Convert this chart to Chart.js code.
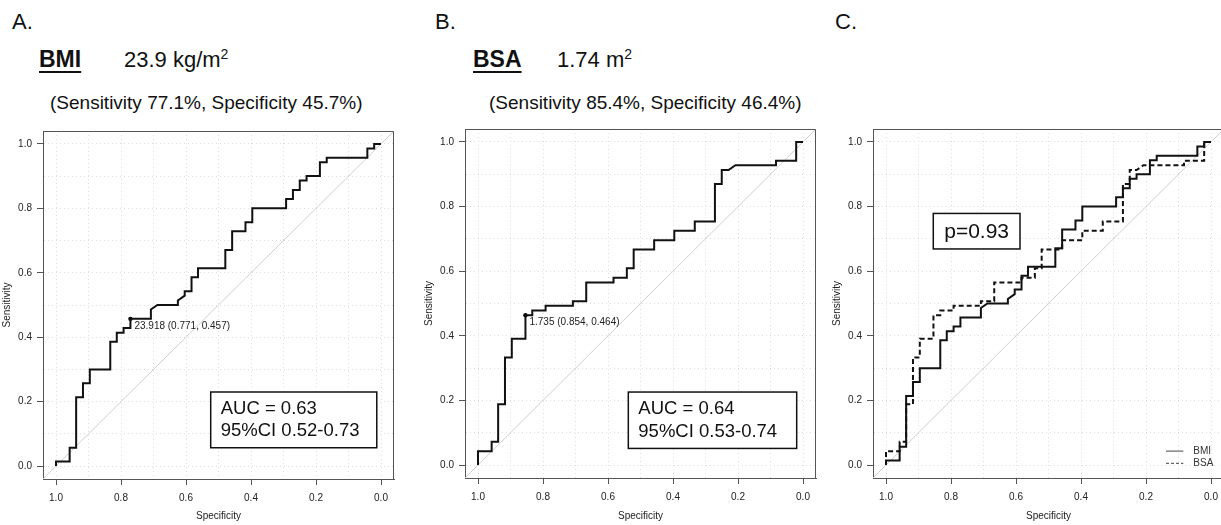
<!DOCTYPE html>
<html>
<head>
<meta charset="utf-8">
<script src="https://cdn.jsdelivr.net/npm/chart.js@4.4.1/dist/chart.umd.min.js"></script>
<style>
body { margin: 0; background: #fff; overflow: hidden; font-family: "Liberation Sans", Arial, Helvetica, sans-serif; color: #111; }
#wrap { position: relative; width: 1221px; height: 525px; overflow: hidden; }
canvas { position: absolute; }
.t { position: absolute; white-space: nowrap; line-height: 1; }
.big { font-size: 22px; }
.lab { font-size: 23px; font-weight: bold; text-decoration: underline; text-decoration-thickness: 2px; text-underline-offset: 4px; }
.val { font-size: 22px; }
.val span { font-size: 14px; position: relative; top: -8px; }
.sub { font-size: 19px; }
</style>
</head>
<body>
<div id="wrap">
  <div class="t big" style="left:12px;top:11px">A.</div>
  <div class="t lab" style="left:39px;top:48px">BMI</div>
  <div class="t val" style="left:124px;top:49px">23.9 kg/m<span>2</span></div>
  <div class="t sub" style="left:50px;top:93px">(Sensitivity 77.1%, Specificity 45.7%)</div>

  <div class="t big" style="left:435px;top:11px">B.</div>
  <div class="t lab" style="left:473px;top:48px">BSA</div>
  <div class="t val" style="left:557px;top:49px">1.74 m<span>2</span></div>
  <div class="t sub" style="left:489px;top:93px">(Sensitivity 85.4%, Specificity 46.4%)</div>

  <div class="t big" style="left:835px;top:11px">C.</div>

  <canvas id="rocA" width="405" height="406" style="left:0px;top:120px"></canvas>
  <canvas id="rocB" width="405" height="407" style="left:422px;top:118px"></canvas>
  <canvas id="rocC" width="405" height="407" style="left:830px;top:118px"></canvas>
</div>
<script>
//+++++++++++++++++++++++ data +++++++++++++++++++++++
const AX_MIN = -0.04, AX_MAX = 1.04;
const gridVals = [0, 0.1, 0.2, 0.3, 0.4, 0.5, 0.6, 0.7, 0.8, 0.9, 1.0];
const tickVals = [0, 0.2, 0.4, 0.6, 0.8, 1.0];
const tickLabels = ['0.0', '0.2', '0.4', '0.6', '0.8', '1.0'];

// ROC path of BMI (specificity, sensitivity)
const bmiSpec = [1, 1, 0.958, 0.958, 0.938, 0.938, 0.917, 0.917, 0.896, 0.896, 0.833, 0.833, 0.813, 0.813,
  0.792, 0.792, 0.771, 0.771, 0.708, 0.708, 0.688, 0.625, 0.625, 0.604, 0.604, 0.583, 0.583, 0.563, 0.563,
  0.479, 0.479, 0.458, 0.458, 0.417, 0.417, 0.396, 0.396, 0.292, 0.292, 0.271, 0.271, 0.25, 0.25, 0.229,
  0.229, 0.188, 0.188, 0.167, 0.167, 0.042, 0.042, 0.021, 0.021, 0];
const bmiSens = [0, 0.014, 0.014, 0.057, 0.057, 0.214, 0.214, 0.257, 0.257, 0.3, 0.3, 0.386, 0.386, 0.414,
  0.414, 0.429, 0.429, 0.457, 0.457, 0.486, 0.5, 0.5, 0.514, 0.529, 0.543, 0.543, 0.586, 0.586, 0.614,
  0.614, 0.671, 0.671, 0.729, 0.729, 0.757, 0.757, 0.8, 0.8, 0.829, 0.829, 0.857, 0.857, 0.886, 0.886,
  0.9, 0.9, 0.943, 0.943, 0.957, 0.957, 0.986, 0.986, 1, 1];

// ROC path of BSA (specificity, sensitivity)
const bsaSpec = [1, 1, 0.958, 0.958, 0.938, 0.938, 0.917, 0.917, 0.896, 0.896, 0.854, 0.854, 0.833, 0.833,
  0.792, 0.792, 0.708, 0.708, 0.667, 0.667, 0.583, 0.583, 0.542, 0.542, 0.521, 0.521, 0.458, 0.458,
  0.396, 0.396, 0.333, 0.333, 0.271, 0.271, 0.25, 0.25, 0.229, 0.208, 0.083, 0.083, 0.021, 0.021, 0];
const bsaSens = [0, 0.043, 0.043, 0.072, 0.072, 0.188, 0.188, 0.333, 0.333, 0.391, 0.391, 0.464, 0.464, 0.478,
  0.478, 0.493, 0.493, 0.507, 0.507, 0.565, 0.565, 0.58, 0.58, 0.609, 0.609, 0.667, 0.667, 0.696,
  0.696, 0.725, 0.725, 0.754, 0.754, 0.87, 0.87, 0.913, 0.913, 0.928, 0.928, 0.942, 0.942, 1, 1];

// best cut-offs
const bmiCut = [0.771, 0.457];
const bsaCut = [0.854, 0.464];
const bmiCutText = '23.918 (0.771, 0.457)';
const bsaCutText = '1.735 (0.854, 0.464)';
const bmiAuc = ['AUC = 0.63', '95%CI 0.52-0.73'];
const bsaAuc = ['AUC = 0.64', '95%CI 0.53-0.74'];
const seriesNames = ['BMI', 'BSA'];
const pText = 'p=0.93';
//-------------------- end data --------------------

const FONT = '"Liberation Sans", Arial, Helvetica, sans-serif';
Chart.defaults.font.family = FONT;

function pts(xs, ys) { return xs.map((v, i) => ({ x: v, y: ys[i] })); }
function tickLabel(v) {
	const i = tickVals.findIndex(t => Math.abs(t - v) < 1e-6);
	return i < 0 ? '' : tickLabels[i];
}
function isMajor(c) { return c.tick && tickLabel(c.tick.value) !== ''; }

// frame, cut-off label, AUC box, legend
const rocNotes = {
	id: 'rocNotes',
	afterDraw(chart, args, o) {
		const { ctx, chartArea: a, scales: { x, y } } = chart;
		const px = v => x.getPixelForValue(v), py = v => y.getPixelForValue(v);
		ctx.save();
		ctx.strokeStyle = '#555';
		ctx.lineWidth = 1;
		ctx.beginPath();
		const l = Math.round(a.left) + .5, t = Math.round(a.top) + .5, r = Math.round(a.right) - .5, b = Math.round(a.bottom) + .5;
		ctx.moveTo(l, t); ctx.lineTo(r, t); ctx.lineTo(r, b);
		ctx.stroke();

		if (o.cut) {
			ctx.fillStyle = '#222';
			ctx.font = '10px ' + FONT;
			ctx.textAlign = 'left';
			ctx.textBaseline = 'middle';
			ctx.fillText(o.cut.text, px(o.cut.x) + 4, py(o.cut.y) + 7);
		}
		if (o.box) {
			const bx = px(o.box.x1), by = py(o.box.y1), bw = px(o.box.x2) - bx, bh = py(o.box.y2) - by;
			ctx.fillStyle = '#fff';
			ctx.fillRect(bx, by, bw, bh);
			ctx.strokeStyle = '#111';
			ctx.lineWidth = 1.5;
			ctx.strokeRect(bx, by, bw, bh);
			ctx.fillStyle = '#111';
			ctx.font = o.box.size + 'px ' + FONT;
			ctx.textBaseline = 'middle';
			if (o.box.center) {
				ctx.textAlign = 'center';
				ctx.fillText(o.box.lines[0], bx + bw / 2, by + bh / 2 + 1);
			} else {
				ctx.textAlign = 'left';
				o.box.lines.forEach((s, i) => ctx.fillText(s, bx + 10, by + 17 + i * 22.4));
			}
		}
		if (o.legend) {
			ctx.font = '10px ' + FONT;
			ctx.textAlign = 'left';
			ctx.textBaseline = 'middle';
			o.legend.forEach(it => {
				ctx.strokeStyle = '#666';
				ctx.lineWidth = 1.2;
				ctx.setLineDash(it.dash);
				ctx.beginPath();
				ctx.moveTo(px(o.lx1), py(it.y));
				ctx.lineTo(px(o.lx2), py(it.y));
				ctx.stroke();
				ctx.fillStyle = '#333';
				ctx.fillText(it.text, px(o.tx), py(it.y));
			});
		}
		ctx.restore();
	}
};

function axis(title, extra) {
	return Object.assign({
		type: 'linear', min: AX_MIN, max: AX_MAX,
		afterBuildTicks: s => { s.ticks = gridVals.map(v => ({ value: v })); },
		grid: {
			color: '#dedede', lineWidth: 1, tickLength: 6, tickWidth: 1,
			tickColor: c => isMajor(c) ? '#555' : 'rgba(0,0,0,0)'
		},
		border: { color: '#555', width: 1, dash: [1, 3] }
	}, extra);
}

function rocChart(id, datasets, notes, titlePadBottom) {
	return new Chart(document.getElementById(id), {
		type: 'scatter',
		data: { datasets: datasets },
		options: {
			responsive: false,
			animation: false,
			layout: { padding: { top: 10, right: 11, left: 0, bottom: 0 } },
			plugins: { legend: { display: false }, tooltip: { enabled: false }, rocNotes: notes },
			scales: {
				x: axis('Specificity', {
					reverse: true,
					afterFit: s => { s.height = 47; },
					ticks: { color: '#222', font: { size: 10 }, padding: 7, autoSkip: false, maxRotation: 0, callback: v => tickLabel(v) },
					title: { display: true, text: 'Specificity', color: '#222', font: { size: 10 }, padding: { top: 0, bottom: titlePadBottom } }
				}),
				y: axis('Sensitivity', {
					afterFit: s => { s.width = 43; },
					ticks: { color: '#222', font: { size: 10 }, padding: 5, autoSkip: false, callback: v => tickLabel(v) },
					title: { display: true, text: 'Sensitivity', color: '#222', font: { size: 10 }, padding: { top: 1, bottom: 0 } }
				})
			}
		},
		plugins: [rocNotes]
	});
}

function curve(xs, ys, dash) {
	return { data: pts(xs, ys), showLine: true, pointRadius: 0, borderColor: '#111', borderWidth: 2, borderDash: dash || [], tension: 0 };
}
function cutPoint(c) {
	return { data: [{ x: c[0], y: c[1] }], pointRadius: 2.2, backgroundColor: '#000', borderWidth: 0 };
}
function chance() {
	return { data: [{ x: AX_MAX, y: 1 - AX_MAX }, { x: AX_MIN, y: 1 - AX_MIN }], showLine: true, pointRadius: 0, borderColor: '#cfcfcf', borderWidth: 1 };
}

//+++++++++++++++++++++++ A: BMI +++++++++++++++++++++++
rocChart('rocA', [curve(bmiSpec, bmiSens), cutPoint(bmiCut), chance()], {
	cut: { x: bmiCut[0], y: bmiCut[1], text: bmiCutText },
	box: { x1: 0.524, x2: 0.013, y1: 0.230, y2: 0.057, size: 18.5, lines: bmiAuc }
}, 3.5);

//+++++++++++++++++++++++ B: BSA +++++++++++++++++++++++
rocChart('rocB', [curve(bsaSpec, bsaSens), cutPoint(bsaCut), chance()], {
	cut: { x: bsaCut[0], y: bsaCut[1], text: bsaCutText },
	box: { x1: 0.5375, x2: 0.0194, y1: 0.226, y2: 0.0515, size: 18.5, lines: bsaAuc }
}, 2.5);

//+++++++++++++++++++++++ C: BMI vs BSA +++++++++++++++++++++++
rocChart('rocC', [curve(bmiSpec, bmiSens), curve(bsaSpec, bsaSens, [5, 3]), chance()], {
	box: { x1: 0.8545, x2: 0.5877, y1: 0.7787, y2: 0.6688, size: 21, center: true, lines: [pText] },
	lx1: 0.1385, lx2: 0.0852, tx: 0.0545,
	legend: [{ y: 0.0432, text: seriesNames[0], dash: [] }, { y: 0.0052, text: seriesNames[1], dash: [3, 2] }]
}, 2.5);
</script>
</body>
</html>
